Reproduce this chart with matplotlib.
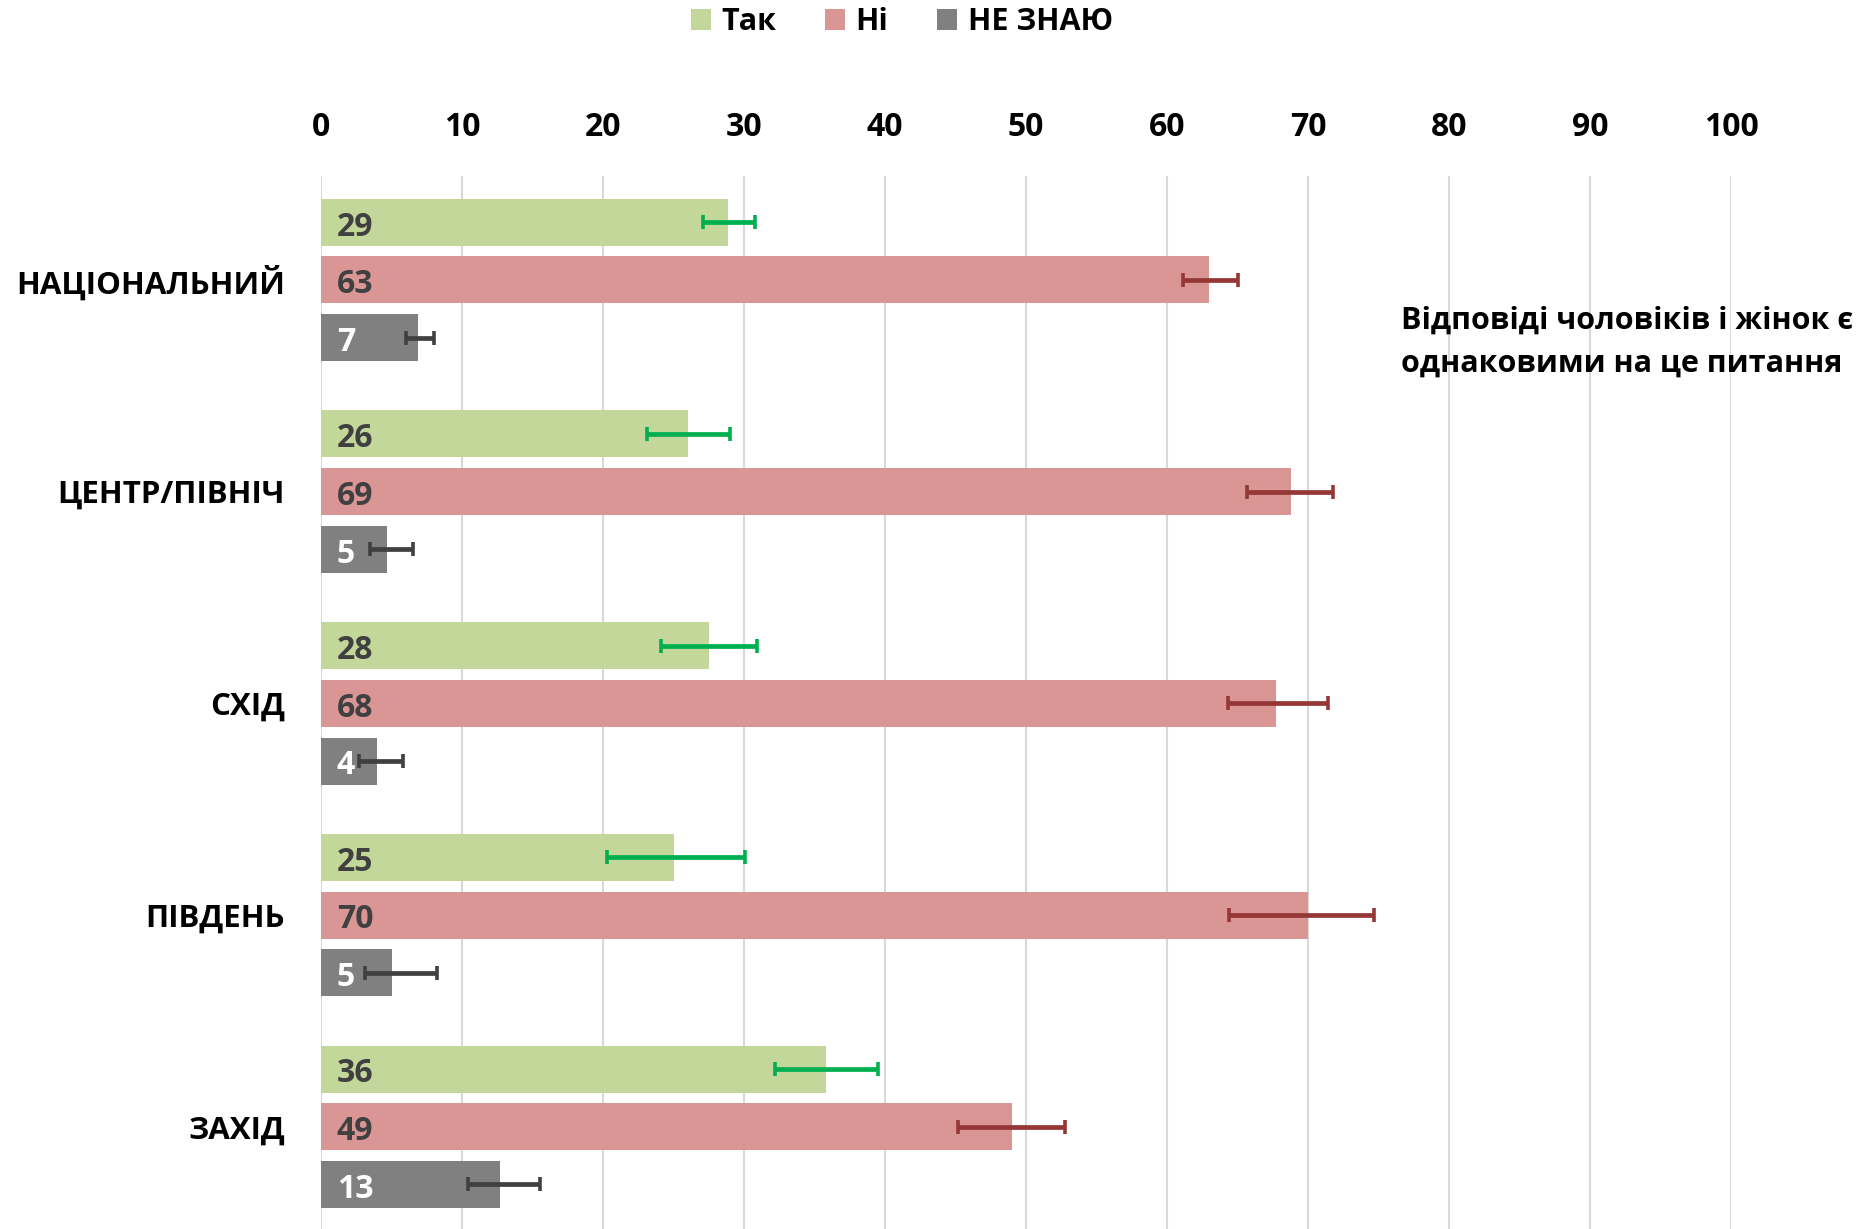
import numpy as np
import matplotlib.pyplot as plt

plt.rcParams['font.family'] = ['Open Sans', 'DejaVu Sans']
plt.rcParams['font.weight'] = 'bold'

regions = ['НАЦІОНАЛЬНИЙ', 'ЦЕНТР/ПІВНІЧ', 'СХІД', 'ПІВДЕНЬ', 'ЗАХІД']
series = ['Так', 'Ні', 'НЕ ЗНАЮ']

# bar lengths as drawn, and the rounded labels printed on them
tak = [28.9, 26.0, 27.5, 25.0, 35.8]
ni = [63.0, 68.8, 67.7, 70.0, 49.0]
ne_znayu = [6.9, 4.7, 4.0, 5.0, 12.7]
tak_lbl = ['29', '26', '28', '25', '36']
ni_lbl = ['63', '69', '68', '70', '49']
ne_lbl = ['7', '5', '4', '5', '13']

# error bar ends (low, high)
tak_err = [(27.1, 30.8), (23.1, 29.0), (24.1, 30.9), (20.3, 30.1), (32.2, 39.5)]
ni_err = [(61.1, 65.0), (65.7, 71.8), (64.3, 71.4), (64.4, 74.7), (45.2, 52.8)]
ne_err = [(6.0, 8.0), (3.5, 6.5), (2.7, 5.8), (3.1, 8.2), (10.4, 15.5)]

colors = ['#c4d79b', '#da9694', '#808080']
err_colors = ['#00b050', '#953735', '#404040']
lbl_colors = ['#404040', '#404040', 'white']

fig = plt.figure(figsize=(18.75, 12.29), dpi=100)
ax = fig.add_axes([0.1712, 0.0, 0.752, 0.8568])

y = np.arange(len(regions))
slot = 0.2726
h = 0.222
data = [tak, ni, ne_znayu]
lbls = [tak_lbl, ni_lbl, ne_lbl]
errs = [tak_err, ni_err, ne_err]

handles = []
for i in range(3):
    pos = y + (i - 1) * slot
    b = ax.barh(pos, data[i], height=h, color=colors[i], zorder=2, label=series[i])
    handles.append(b)
    lo = np.array([e[0] for e in errs[i]])
    hi = np.array([e[1] for e in errs[i]])
    mid = (lo + hi) / 2
    ax.errorbar(mid, pos, xerr=(hi - lo) / 2, fmt='none', ecolor=err_colors[i],
                elinewidth=3.4, capsize=5, capthick=2.6, zorder=3)
    for p, t in zip(pos, lbls[i]):
        ax.annotate(t, (0, p), xytext=(11.5, -3.5), textcoords='offset points',
                    va='center', ha='left', fontsize=23, fontweight='bold',
                    color=lbl_colors[i], zorder=4)

ax.set_xlim(0, 100)
ax.set_ylim(4.483, -0.491)
ax.set_xticks(np.arange(0, 101, 10))
ax.xaxis.tick_top()
ax.tick_params(axis='x', length=0, pad=23, labelsize=23)
ax.set_yticks(y)
ax.set_yticklabels(regions, fontsize=22.5, fontweight='bold')
ax.tick_params(axis='y', length=0, pad=26)
ax.grid(axis='x', color='#d9d9d9', linewidth=1.5, zorder=0)
for s in ax.spines.values():
    s.set_visible(False)

fig.legend(handles, series, loc='center', bbox_to_anchor=(0.481, 0.982), ncol=3,
           frameon=False, fontsize=22, handlelength=0.65, handleheight=0.65,
           handletextpad=0.35, columnspacing=1.6)

fig.text(0.747, 0.7217, 'Відповіді чоловіків і жінок є\nоднаковими на це питання',
         fontsize=22, fontweight='bold', ha='left', va='center', linespacing=1.55)

fig.savefig('out.png', dpi=100)
